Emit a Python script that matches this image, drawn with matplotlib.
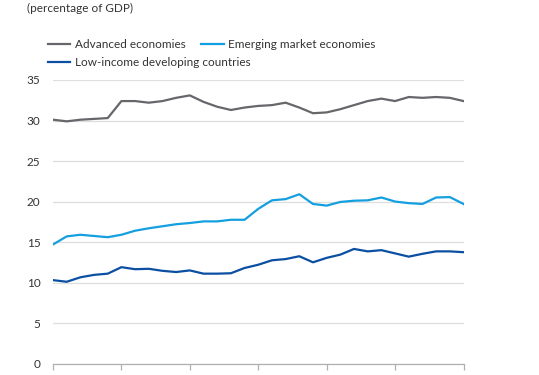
import matplotlib
matplotlib.use("Agg")
import matplotlib.pyplot as plt
import numpy as np

years = list(range(1990, 2021))
advanced = [30.1, 29.9, 30.1, 30.2, 30.3, 32.4, 32.4, 32.2, 32.4, 32.8, 33.1, 32.3, 31.7, 31.3, 31.6, 31.8,
            31.9, 32.2, 31.6, 30.9, 31.0, 31.4, 31.9, 32.4, 32.7, 32.4, 32.9, 32.8, 32.9, 32.8, 32.4]
emerging = [14.7, 15.7, 15.9, 15.75, 15.6, 15.9, 16.4, 16.7, 16.95, 17.2, 17.35, 17.55, 17.55, 17.75, 17.75, 19.1,
            20.15, 20.3, 20.9, 19.7, 19.5, 19.95, 20.1, 20.15, 20.5, 20.0, 19.8, 19.7, 20.5, 20.55, 19.7]
lowincome = [10.3, 10.1, 10.65, 10.95, 11.1, 11.9, 11.65, 11.7, 11.45, 11.3, 11.5, 11.1, 11.1, 11.15, 11.8, 12.2,
             12.75, 12.9, 13.25, 12.5, 13.05, 13.45, 14.15, 13.85, 14.0, 13.6, 13.2, 13.55, 13.85, 13.85, 13.75]
yticks = [0, 5, 10, 15, 20, 25, 30, 35]
xticks = [1990, 1995, 2000, 2005, 2010, 2015, 2020]

plt.rcParams['font.family'] = ['Lato', 'DejaVu Sans']

fig = plt.figure(figsize=(5.39, 3.75), dpi=100)
ax = fig.add_axes([53/539, 1 - 363.6/375, (463.5 - 53)/539, (363.6 - 80)/375])

c_adv = '#66676b'
c_em = '#149fe0'
c_low = '#0b4fa3'
lw = 1.6

l1, = ax.plot(years, advanced, color=c_adv, lw=lw, label='Advanced economies', solid_joinstyle='round')
l2, = ax.plot(years, emerging, color=c_em, lw=lw, label='Emerging market economies', solid_joinstyle='round')
l3, = ax.plot(years, lowincome, color=c_low, lw=lw, label='Low-income developing countries', solid_joinstyle='round')

ax.set_xlim(1990, 2020)
ax.set_ylim(0, 35)
ax.set_yticks(yticks)
ax.set_yticklabels([str(v) for v in yticks])
ax.set_xticks(xticks)
ax.set_xticklabels([])
ax.grid(axis='y', color='#dedede', lw=0.9)
ax.set_axisbelow(True)
for s in ['top', 'right', 'left']:
    ax.spines[s].set_visible(False)
ax.spines['bottom'].set_color('#b0b0b0')
ax.spines['bottom'].set_linewidth(0.9)
ax.tick_params(axis='y', length=0, pad=9, labelsize=8.5, labelcolor='#333333')
ax.tick_params(axis='x', length=4, width=0.9, color='#b0b0b0', direction='out')

fig.text(27/539, 1 - 8/375, '(percentage of GDP)', fontsize=8.5, color='#333333', ha='left', va='center')

common = dict(frameon=False, fontsize=8.5, handlelength=1.9, handletextpad=0.4,
              columnspacing=1.3, borderpad=0, borderaxespad=0, loc='center left')
leg1 = fig.legend(handles=[l1, l2], ncol=2, bbox_to_anchor=(48/539, 1 - 45/375), **common)
leg2 = fig.legend(handles=[l3], ncol=1, bbox_to_anchor=(48/539, 1 - 63/375), **common)
for leg in (leg1, leg2):
    for t in leg.get_texts():
        t.set_color('#333333')

fig.savefig('out.png', dpi=100)
